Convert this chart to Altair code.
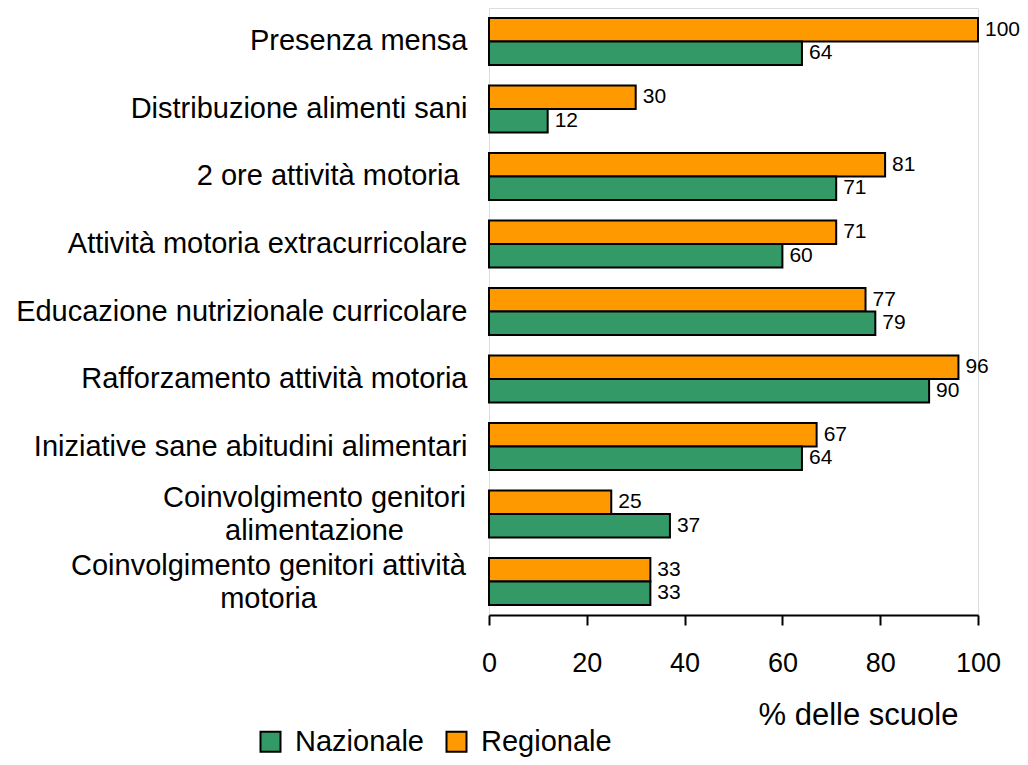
import altair as alt
import pandas as pd

categories = [
    "Presenza mensa",
    "Distribuzione alimenti sani",
    "2 ore attività motoria ",
    "Attività motoria extracurricolare",
    "Educazione nutrizionale curricolare",
    "Rafforzamento attività motoria",
    "Iniziative sane abitudini alimentari",
    "Coinvolgimento genitori|alimentazione",
    "Coinvolgimento genitori attività|motoria",
]
regionale = [100, 30, 81, 71, 77, 96, 67, 25, 33]
nazionale = [64, 12, 71, 60, 79, 90, 64, 37, 33]
series = ["Nazionale", "Regionale"]
colors = ["#339966", "#FF9900"]

rows = []
for c, r, n in zip(categories, regionale, nazionale):
    rows.append({"cat": c, "serie": "Regionale", "val": r})
    rows.append({"cat": c, "serie": "Nazionale", "val": n})
df = pd.DataFrame(rows)

FONT = "Liberation Sans"

multi = "indexof(datum.value, '|') >= 0"
pad_cond = {
    "condition": [
        {"test": "datum.value == 'Coinvolgimento genitori|alimentazione'", "value": 175},
        {"test": "datum.value == 'Coinvolgimento genitori attività|motoria'", "value": 221},
        {"test": "datum.value == '2 ore attività motoria '", "value": 30},
    ],
    "value": 22,
}

y = alt.Y("cat:N", sort=categories,
          scale=alt.Scale(paddingInner=0.304, paddingOuter=0.148),
          axis=alt.Axis(title=None, domain=False, ticks=False, labelFont=FONT,
                        labelFontSize=29, labelColor="black",
                        labelPadding=pad_cond,
                        labelAlign={"condition": {"test": multi, "value": "center"},
                                    "value": "right"},
                        labelOffset={"condition": {"test": multi, "value": -16},
                                     "value": 0},
                        labelLimit=600, labelLineHeight=33,
                        labelExpr="split(datum.label, '|')"))
yoff = alt.YOffset("serie:N", sort=["Regionale", "Nazionale"],
                   scale=alt.Scale(paddingInner=0, paddingOuter=0))

bars = alt.Chart(df).mark_bar(stroke="black", strokeWidth=2).encode(
    x=alt.X("val:Q", scale=alt.Scale(domain=[0, 100], nice=False),
            axis=alt.Axis(values=[0, 20, 40, 60, 80, 100], grid=False,
                          labelFlush=False,
                          domainColor="black", domainWidth=2, tickColor="black",
                          tickWidth=2, tickSize=10, labelFont=FONT, labelFontSize=27,
                          labelColor="black", labelPadding=25,
                          title="% delle scuole", titleFont=FONT, titleFontSize=31,
                          titleFontWeight="normal", titleColor="black",
                          titleX=369, titleY=100, titleAlign="center",
                          titleBaseline="middle")),
    y=y,
    yOffset=yoff,
    fill=alt.Fill("serie:N", scale=alt.Scale(domain=series, range=colors),
                  legend=alt.Legend(title=None, orient="none", legendX=-233,
                                    legendY=719, direction="horizontal",
                                    padding=0,
                                    symbolType="square", symbolSize=400,
                                    symbolStrokeColor="black", symbolStrokeWidth=2,
                                    labelFont=FONT, labelFontSize=29,
                                    labelColor="black", columnPadding=18,
                                    labelOffset=10)),
)

labels = alt.Chart(df).mark_text(align="left", baseline="middle", dx=7,
                                 font=FONT, fontSize=21, color="black").encode(
    x="val:Q",
    y=alt.Y("cat:N", sort=categories),
    yOffset=alt.YOffset("serie:N", sort=["Regionale", "Nazionale"]),
    text="val:Q",
)

chart = alt.layer(bars, labels).properties(
    width=489, height=607,
    autosize=alt.AutoSizeParams(type="none"),
    padding={"left": 481, "top": 0, "right": 42, "bottom": 142},
).configure_view(strokeWidth=0, stroke="transparent").configure(background="white")

chart.save("out.html", embed_options={"renderer": "svg", "actions": False})
